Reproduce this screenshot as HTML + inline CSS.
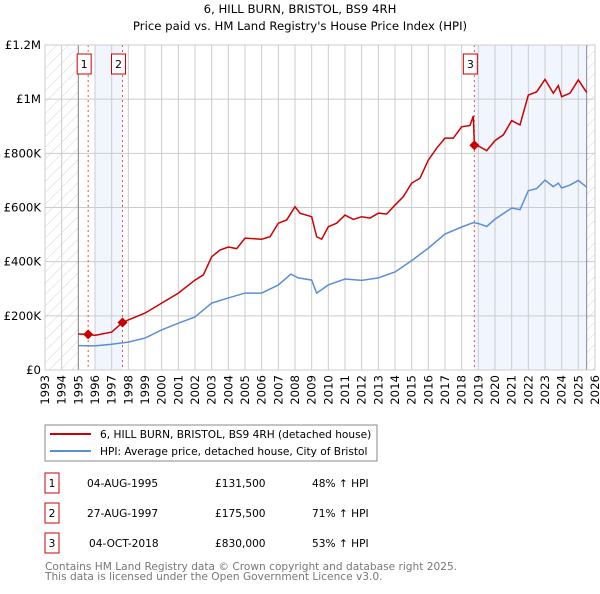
<!DOCTYPE html>
<html><head><meta charset="utf-8"><style>
body{margin:0;background:#fff;width:600px;height:590px;overflow:hidden;font-family:"DejaVu Sans","Liberation Sans",sans-serif}
</style></head><body>
<svg id="c" width="600" height="590" xmlns="http://www.w3.org/2000/svg" font-family="DejaVu Sans, Liberation Sans, sans-serif">
<defs><pattern id="hatch" width="8" height="8" patternUnits="userSpaceOnUse" patternTransform="rotate(45)"><line x1="0" y1="0" x2="0" y2="8" stroke="#d4d4d4" stroke-width="1"/></pattern></defs>
<text x="300" y="13" text-anchor="middle" font-size="11.7">6, HILL BURN, BRISTOL, BS9 4RH</text>
<text x="300" y="30" text-anchor="middle" font-size="11.7">Price paid vs. HM Land Registry's House Price Index (HPI)</text>
<g id="plot"></g>
<rect x="45" y="425" width="332" height="36" fill="#fff" stroke="#888"/>
<line x1="50" y1="434" x2="91" y2="434" stroke="#cc0000" stroke-width="2"/>
<text x="100" y="438" font-size="10.6">6, HILL BURN, BRISTOL, BS9 4RH (detached house)</text>
<line x1="50" y1="451" x2="91" y2="451" stroke="#5b8fd4" stroke-width="2"/>
<text x="100" y="455" font-size="10.6">HPI: Average price, detached house, City of Bristol</text>
<g id="tbl" font-size="10.6"></g>
<text x="45" y="570" font-size="10.6" fill="#777">Contains HM Land Registry data © Crown copyright and database right 2025.</text>
<text x="45" y="580" font-size="10.6" fill="#777">This data is licensed under the Open Government Licence v3.0.</text>
</svg>
<script>
const hpiYears=[1995,1996,1997,1998,1999,2000,2001,2002,2003,2004,2005,2006,2007,2007.75,2008.2,2009,2009.3,2010,2011,2012,2013,2014,2015,2016,2017,2018,2018.7,2019,2019.5,2020,2021,2021.5,2022,2022.5,2023,2023.5,2023.8,2024,2024.5,2025,2025.5];
const hpiValues=[90000,89000,95000,103000,118000,148000,173000,196000,247000,266000,284000,284000,314000,354000,340000,332000,284000,314000,336000,331000,340000,362000,404000,450000,502000,528000,544000,541000,530000,557000,598000,592000,662000,670000,701000,677000,690000,672000,683000,700000,675000];
const priceYears=[1995,1995.59,1996,1997,1997.65,1998,1999,2000,2001,2002,2002.5,2003,2003.5,2004,2004.5,2005,2006,2006.5,2007,2007.5,2008,2008.3,2009,2009.3,2009.6,2010,2010.5,2011,2011.5,2012,2012.5,2013,2013.5,2014,2014.5,2015,2015.5,2016,2016.5,2017,2017.5,2018,2018.5,2018.7,2018.76,2019,2019.5,2020,2020.5,2021,2021.5,2022,2022.5,2023,2023.5,2023.8,2024,2024.5,2025,2025.5];
const priceValues=[133000,131500,128000,140000,175500,185000,210000,247000,284000,332000,351000,418000,443000,454000,448000,487000,483000,492000,542000,554000,603000,579000,566000,492000,483000,529000,542000,572000,556000,566000,561000,579000,576000,609000,640000,690000,708000,775000,819000,856000,856000,898000,903000,938000,830000,827000,810000,847000,868000,921000,905000,1015000,1027000,1073000,1022000,1050000,1009000,1022000,1071000,1025000];
const saleLabels=["1","2","3"];
const saleYears=[1995.59,1997.65,2018.76];
const saleValues=[131500,175500,830000];
const saleDates=["04-AUG-1995","27-AUG-1997","04-OCT-2018"];
const salePrices=["£131,500","£175,500","£830,000"];
const saleHpi=["48% ↑ HPI","71% ↑ HPI","53% ↑ HPI"];
const yTicks=[0,200000,400000,600000,800000,1000000,1200000];
const yTickLabels=["£0","£200K","£400K","£600K","£800K","£1M","£1.2M"];
const xTicks=[];for(let y=1993;y<=2026;y++)xTicks.push(y);
const X0=45,X1=595,Y0=370,Y1=45;
const xs=y=>X0+(y-1993)/(2026-1993)*(X1-X0);
const ys=v=>Y0-v/1200000*(Y0-Y1);
const NS="http://www.w3.org/2000/svg";
const g=document.getElementById('plot');
function mk(tag,attrs,parent){const e=document.createElementNS(NS,tag);for(const k in attrs)e.setAttribute(k,attrs[k]);(parent||g).appendChild(e);return e;}
let e;
e=mk('rect',{x:xs(1996),y:Y1,width:xs(saleYears[1])-xs(1996),height:Y0-Y1,fill:'#eef3fc',opacity:0.8});


e=mk('rect',{x:xs(saleYears[2]),y:Y1,width:xs(2025.5)-xs(saleYears[2]),height:Y0-Y1,fill:'#eef3fc',opacity:0.8});


e=mk('rect',{x:X0,y:Y1,width:xs(1995)-X0,height:Y0-Y1,fill:'url(#hatch)'});


e=mk('rect',{x:xs(2025.5),y:Y1,width:X1-xs(2025.5),height:Y0-Y1,fill:'url(#hatch)'});


xTicks.forEach(t=>{
 e=mk('line',{x1:xs(t),x2:xs(t),y1:Y1,y2:Y0,stroke:'#ccc'});
 
 
 e=mk('text',{transform:`translate(${xs(t)+4},${Y0+5}) rotate(-90)`,'text-anchor':'end','font-size':11.7});
 e.textContent=t;
 
 
});
yTicks.forEach((t,i)=>{
 e=mk('line',{x1:X0,x2:X1,y1:ys(t),y2:ys(t),stroke:'#ccc'});
 
 
 e=mk('text',{x:X0-4,y:ys(t)+4,'text-anchor':'end','font-size':11.7});
 e.textContent=yTickLabels[i];
 
 
});
e=mk('line',{x1:xs(1995),x2:xs(1995),y1:Y1,y2:Y0,stroke:'#888'});


e=mk('line',{x1:xs(2025.5),x2:xs(2025.5),y1:Y1,y2:Y0,stroke:'#888'});


saleYears.forEach((s,i)=>{
 e=mk('line',{x1:xs(s),x2:xs(s),y1:Y1,y2:Y0,stroke:'#e05050','stroke-dasharray':'2,3','stroke-width':1});
 
 
 e=mk('rect',{x:xs(s)-11,y:54,width:14,height:20,fill:'#fff',stroke:'#cc0000'});
 
 
 e=mk('text',{x:xs(s)-4,y:68,'text-anchor':'middle','font-size':11});
 e.textContent=saleLabels[i];
 
 
});
e=mk('polyline',{points:hpiYears.map((y,i)=>xs(y)+','+ys(hpiValues[i])).join(' '),fill:'none',stroke:'#5b8fd4','stroke-width':1.5});


e=mk('polyline',{points:priceYears.map((y,i)=>xs(y)+','+ys(priceValues[i])).join(' '),fill:'none',stroke:'#cc0000','stroke-width':1.5});


saleYears.forEach((s,i)=>{
 const cx=xs(s),cy=ys(saleValues[i]);
 e=mk('polygon',{points:`${cx},${cy-5} ${cx+5},${cy} ${cx},${cy+5} ${cx-5},${cy}`,fill:'#cc0000'});
 
 
});
e=mk('rect',{x:X0,y:Y1,width:X1-X0,height:Y0-Y1,fill:'none',stroke:'#ccc'});


const tb=document.getElementById('tbl');
saleLabels.forEach((l,i)=>{
 const cy=483+i*30;
 e=mk('rect',{x:45,y:cy-10,width:14,height:20,fill:'#fff',stroke:'#cc0000'},tb);
 
 
 e=mk('text',{x:52,y:cy+4,'text-anchor':'middle'},tb);e.textContent=l;
 
 
 e=mk('text',{x:i==2?89:87,y:cy+4},tb);e.textContent=saleDates[i];
 
 
 e=mk('text',{x:215,y:cy+4},tb);e.textContent=salePrices[i];
 
 
 e=mk('text',{x:312,y:cy+4},tb);e.textContent=saleHpi[i];
 
 
});
</script>
</body></html>
